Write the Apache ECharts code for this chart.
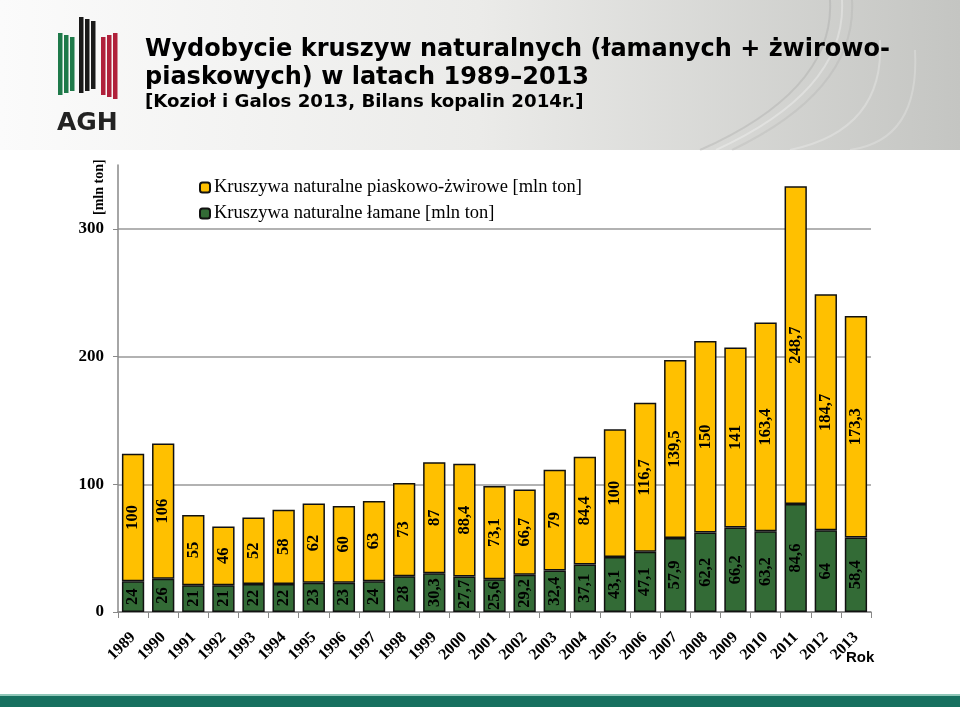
<!DOCTYPE html>
<html><head><meta charset="utf-8">
<script src="https://cdn.jsdelivr.net/npm/echarts@6/dist/echarts.min.js"></script>
<style>html,body{margin:0;padding:0;background:#fff}#c{width:960px;height:707px}</style>
</head><body><div id="c"></div>
<script>
const years = ['1989','1990','1991','1992','1993','1994','1995','1996','1997','1998','1999','2000','2001','2002','2003','2004','2005','2006','2007','2008','2009','2010','2011','2012','2013'];
const lamane = [24,26,21,21,22,22,23,23,24,28,30.3,27.7,25.6,29.2,32.4,37.1,43.1,47.1,57.9,62.2,66.2,63.2,84.6,64,58.4];
const piaskowe = [100,106,55,46,52,58,62,60,63,73,87,88.4,73.1,66.7,79,84.4,100,116.7,139.5,150,141,163.4,248.7,184.7,173.3];
const yTicks = [0,100,200,300];
const nameP = 'Kruszywa naturalne piaskowo-żwirowe [mln ton]';
const nameL = 'Kruszywa naturalne łamane [mln ton]';

const chart = echarts.init(document.getElementById('c'));
const serif = '"Liberation Serif", "Times New Roman", serif';
const fmt = p => String(p.value).replace('.', ',');
const lbl = {show:true, position:'inside', rotate:90, color:'#000', fontFamily:serif, fontWeight:'bold', fontSize:16.5, formatter:fmt};

const logo = [];
[58,64,70].forEach((x,i)=>logo.push({type:'rect', shape:{x:x, y:33+i*2, width:4.5, height:62-i*4}, style:{fill:'#1f7a4a'}}));
[79,85,91].forEach((x,i)=>logo.push({type:'rect', shape:{x:x, y:17+i*2, width:4.5, height:76-i*4}, style:{fill:'#1a1a1a'}}));
[101,107,113].forEach((x,i)=>logo.push({type:'rect', shape:{x:x, y:33+(2-i)*2, width:4.5, height:66-(2-i)*4}, style:{fill:'#b0203a'}}));

const curves = [];
[[830,0,700,150,'rgba(120,120,120,0.18)'],[842,0,716,150,'rgba(255,255,255,0.3)'],[852,0,732,150,'rgba(120,120,120,0.12)'],
 [880,40,790,150,'rgba(255,255,255,0.25)'],[915,50,850,150,'rgba(255,255,255,0.22)']].forEach(c=>{
  curves.push({type:'bezierCurve', z:-9, shape:{x1:c[0],y1:c[1],x2:c[2],y2:c[3],cpx1:c[0]+5,cpy1:c[1]+90},
    style:{stroke:c[4], lineWidth:2, fill:null}});
});

chart.setOption({
  animation:false,
  backgroundColor:'#fff',
  title:{
    text:'Wydobycie kruszyw naturalnych (łamanych + żwirowo-\npiaskowych) w latach 1989–2013',
    subtext:'[Kozioł i Galos 2013, Bilans kopalin 2014r.]',
    left:140, top:31, itemGap:1,
    textStyle:{fontFamily:'"DejaVu Sans", Verdana, sans-serif', fontWeight:'bold', fontSize:24, lineHeight:28, color:'#000'},
    subtextStyle:{fontFamily:'"DejaVu Sans", Verdana, sans-serif', fontWeight:'bold', fontSize:18.2, color:'#000'}
  },
  legend:{
    orient:'vertical', left:194, top:173, itemWidth:10, itemHeight:10, itemGap:7,
    data:[nameP, nameL],
    textStyle:{fontFamily:serif, fontSize:18.5, color:'#000', padding:[0,0,0,-1]}
  },
  grid:{left:118, right:89, top:165, bottom:95},
  xAxis:{
    type:'category', data:years, boundaryGap:true,
    axisLine:{lineStyle:{color:'#888', width:1.5}},
    axisTick:{show:true, length:6, lineStyle:{color:'#888'}},
    axisLabel:{rotate:45, interval:0, margin:23, color:'#000', fontFamily:serif, fontWeight:'bold', fontSize:16}
  },
  yAxis:{
    type:'value', min:0, max:350, interval:100,
    axisLine:{show:true, lineStyle:{color:'#888', width:1.5}},
    axisTick:{show:true, length:5, lineStyle:{color:'#888'}},
    axisLabel:{margin:14, color:'#000', fontFamily:serif, fontWeight:'bold', fontSize:17, showMaxLabel:false,
      formatter:v=>yTicks.includes(v)?String(v):''},
    splitLine:{show:true, showMaxLine:false, lineStyle:{color:'#999', width:1.5}}
  },
  series:[
    {name:nameL, type:'bar', stack:'a', data:lamane, barCategoryGap:'26%',
      itemStyle:{color:'#336b36', borderColor:'#111', borderWidth:1.5}, label:lbl},
    {name:nameP, type:'bar', stack:'a', data:piaskowe, barCategoryGap:'26%',
      itemStyle:{color:'#ffc000', borderColor:'#111', borderWidth:1.5}, label:lbl}
  ],
  graphic:[
    {type:'rect', z:-10, shape:{x:0,y:0,width:960,height:150},
      style:{fill:{type:'linear',x:0,y:0,x2:1,y2:0,colorStops:[{offset:0,color:'#fbfbfb'},{offset:0.5,color:'#ebebe9'},{offset:1,color:'#c4c5c2'}]}}},
    {type:'group', children:curves},
    {type:'group', children:logo},
    {type:'text', left:57, top:111, style:{text:'AGH', font:'bold 25px "DejaVu Sans", sans-serif', fill:'#222', letterSpacing:4}},
    {type:'text', x:92, y:215, rotation:Math.PI/2, style:{text:'[mln ton]', font:'bold 14px "Liberation Serif", serif', fill:'#000'}},
    {type:'text', left:846, top:650, style:{text:'Rok', font:'bold 15px "Liberation Sans Narrow", "Liberation Sans", sans-serif', fill:'#000'}},
    {type:'rect', shape:{x:0,y:694,width:960,height:2}, style:{fill:'#8fc7b8'}},
    {type:'rect', shape:{x:0,y:696,width:960,height:11}, style:{fill:'#17705f'}}
  ]
});
</script></body></html>
